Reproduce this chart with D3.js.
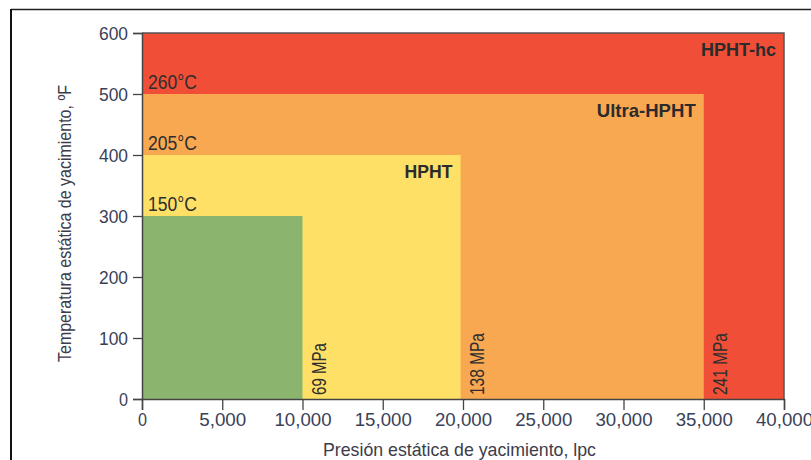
<!DOCTYPE html>
<html><head><meta charset="utf-8">
<script src="https://cdn.jsdelivr.net/npm/d3@7"></script>
<style>
html,body{margin:0;padding:0;background:#fff;}
svg{display:block;}
</style></head>
<body>
<svg id="chart" width="811" height="460"></svg>
<script>
// ---- data ----
const zoneNames = ["Convencional", "HPHT", "Ultra-HPHT", "HPHT-hc"];
const zonePressure = [10000, 19850, 35000, 40000];   // lpc (upper limit)
const zoneTemperature = [300, 400, 500, 600];        // °F (upper limit)
const zoneColors = ["#8bb56f", "#fee066", "#f9a852", "#f04e37"];
const tempLabels = ["150°C", "205°C", "260°C"];
const pressLabels = ["69 MPa", "138 MPa", "241 MPa"];
const xTicks = [0, 5000, 10000, 15000, 20000, 25000, 30000, 35000, 40000];
const yTicks = [0, 100, 200, 300, 400, 500, 600];
const xTitle = "Presión estática de yacimiento, lpc";
const yTitle = "Temperatura estática de yacimiento, ºF";

const svg = d3.select("#chart");
const sans = "'Liberation Sans',Arial,sans-serif";

// condensed look: compress text horizontally to its measured width
function fit(sel, w) {
  sel.attr("textLength", w).attr("lengthAdjust", "spacingAndGlyphs");
}

// frame
svg.append("line").attr("x1",11).attr("y1",9.5).attr("x2",811).attr("y2",9.5).attr("stroke","#222").attr("stroke-width",1.6);
svg.append("line").attr("x1",11).attr("y1",9).attr("x2",11).attr("y2",460).attr("stroke","#111").attr("stroke-width",2);

const x = d3.scaleLinear().domain([0, 40000]).range([142, 784]);
const y = d3.scaleLinear().domain([0, 600]).range([399, 33]);

// zones drawn largest first
const idx = d3.range(zoneNames.length).reverse();
svg.selectAll("rect.zone").data(idx).join("rect")
  .attr("class","zone")
  .attr("x", x(0))
  .attr("y", i => y(zoneTemperature[i]))
  .attr("width", i => x(zonePressure[i]) - x(0))
  .attr("height", i => y(0) - y(zoneTemperature[i]))
  .attr("fill", i => zoneColors[i]);

// border top/right of outer zone
const last = zoneNames.length - 1;
svg.append("path")
  .attr("d", `M${x(0)},${y(zoneTemperature[last])}H${x(zonePressure[last])}V${y(0)}`)
  .attr("fill","none").attr("stroke","#555").attr("stroke-width",1.5);

// axes
const tickColor = "#3a4157";
const yAxis = svg.append("g").attr("transform",`translate(${x(0)},0)`)
  .call(d3.axisLeft(y).tickValues(yTicks).tickSize(9).tickPadding(5).tickFormat(d3.format("d")));
const xAxis = svg.append("g").attr("transform",`translate(0,${y(0)})`)
  .call(d3.axisBottom(x).tickValues(xTicks).tickSize(11).tickPadding(4).tickFormat(d3.format(",")));
[xAxis, yAxis].forEach(g => {
  g.select(".domain").attr("stroke","#444").attr("stroke-width",1.5);
  g.selectAll(".tick line").attr("stroke","#444").attr("stroke-width",1.3);
  g.selectAll(".tick text").attr("fill",tickColor).style("font-family",sans).style("font-size","17.5px");
});
yAxis.selectAll(".tick text").attr("dy","0.36em");
xAxis.selectAll(".tick text").each(function(){ const n=this.textContent.length; fit(d3.select(this), n===1?9:(n===5?47:57)); });
yAxis.selectAll(".tick text").each(function(){ const n=this.textContent.length; fit(d3.select(this), n===1?9:29); });

// zone names (bold)
svg.selectAll("text.zname").data([1,2,3]).join("text")
  .attr("class","zname")
  .attr("x", i => x(zonePressure[i]) - 8)
  .attr("y", i => y(zoneTemperature[i]) + 23)
  .attr("text-anchor","end")
  .attr("fill","#2b2b2b")
  .style("font-family",sans).style("font-weight","bold").style("font-size","18.5px")
  .each(function(i){ fit(d3.select(this), [0,48,99,75][i]); })
  .text(i => zoneNames[i]);

// temperature labels
svg.selectAll("text.tlab").data([0,1,2]).join("text")
  .attr("class","tlab")
  .attr("x", x(0) + 6)
  .attr("y", i => y(zoneTemperature[i]) - 5)
  .attr("fill","#2e2e2e")
  .style("font-family",sans).style("font-size","19.5px")
  .attr("textLength",49).attr("lengthAdjust","spacingAndGlyphs")
  .text(i => tempLabels[i]);

// pressure labels (rotated)
svg.selectAll("text.plab").data([0,1,2]).join("text")
  .attr("class","plab")
  .attr("transform", i => `translate(${x(zonePressure[i]) + 23},${y(0) - 4}) rotate(-90)`)
  .attr("fill","#2e2e2e")
  .style("font-family",sans).style("font-size","19.5px")
  .attr("textLength", i => [52,62,62][i]).attr("lengthAdjust","spacingAndGlyphs")
  .text(i => pressLabels[i]);

// titles
svg.append("text")
  .attr("x", 459.5).attr("y", 456)
  .attr("text-anchor","middle")
  .attr("fill","#3c3c4a")
  .style("font-family",sans).style("font-size","19px")
  .attr("textLength",273).attr("lengthAdjust","spacingAndGlyphs")
  .text(xTitle);
svg.append("text")
  .attr("transform","translate(71,223.5) rotate(-90)")
  .attr("text-anchor","middle")
  .attr("fill","#3c3c4a")
  .style("font-family",sans).style("font-size","18.5px")
  .attr("textLength",277).attr("lengthAdjust","spacingAndGlyphs")
  .text(yTitle);
</script>
</body></html>
